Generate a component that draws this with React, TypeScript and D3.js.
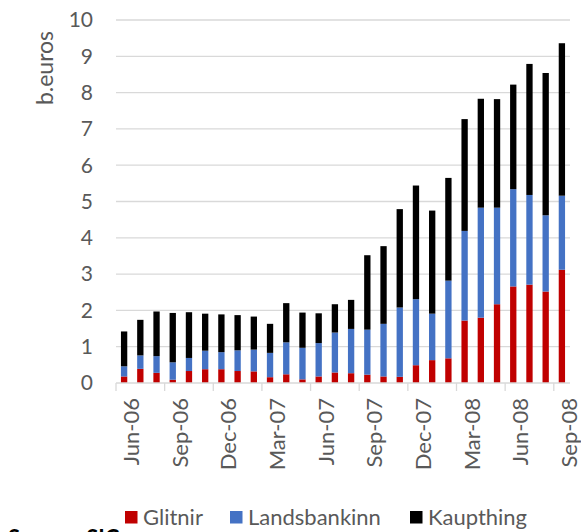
import * as d3 from 'd3';

const months = [
  'Jun-06', 'Jul-06', 'Aug-06', 'Sep-06', 'Oct-06', 'Nov-06', 'Dec-06',
  'Jan-07', 'Feb-07', 'Mar-07', 'Apr-07', 'May-07', 'Jun-07', 'Jul-07',
  'Aug-07', 'Sep-07', 'Oct-07', 'Nov-07', 'Dec-07', 'Jan-08', 'Feb-08',
  'Mar-08', 'Apr-08', 'May-08', 'Jun-08', 'Jul-08', 'Aug-08', 'Sep-08',
];

const glitnir = [
  0.18, 0.39, 0.28, 0.09, 0.33, 0.38, 0.38, 0.33, 0.32, 0.16, 0.24, 0.10, 0.18, 0.29,
  0.27, 0.23, 0.18, 0.17, 0.49, 0.63, 0.68, 1.72, 1.80, 2.17, 2.66, 2.71, 2.52, 3.12,
];
const landsbankinn = [
  0.28, 0.37, 0.46, 0.48, 0.36, 0.51, 0.47, 0.57, 0.60, 0.67, 0.88, 0.87, 0.92, 1.10,
  1.22, 1.24, 1.45, 1.91, 1.82, 1.28, 2.14, 2.47, 3.03, 2.66, 2.68, 2.47, 2.10, 2.04,
];
const kaupthing = [
  0.96, 0.98, 1.23, 1.36, 1.26, 1.02, 1.04, 0.97, 0.91, 0.80, 1.08, 0.97, 0.82, 0.78,
  0.80, 2.05, 2.14, 2.71, 3.13, 2.84, 2.83, 3.08, 3.00, 2.99, 2.88, 3.61, 3.92, 4.20,
];

const seriesNames = ['Glitnir', 'Landsbankinn', 'Kaupthing'];
const seriesColors = ['#C00000', '#4472C4', '#000000'];
const yTicks = [0, 1, 2, 3, 4, 5, 6, 7, 8, 9, 10];

const W = 581;
const H = 532;
const margin = { top: 20, left: 116, right: 11, bottom: 149 };
const FONT = 'Lato, "Open Sans", sans-serif';
const TEXT = '#595959';

export default function App() {
  const x = d3
    .scaleBand<string>()
    .domain(months)
    .range([margin.left, W - margin.right])
    .paddingInner(0.61)
    .paddingOuter(0.305);

  const y = d3.scaleLinear().domain([0, 10]).range([H - margin.bottom, margin.top]);

  const table = months.map((m, i) => ({
    month: m,
    Glitnir: glitnir[i],
    Landsbankinn: landsbankinn[i],
    Kaupthing: kaupthing[i],
  }));
  const stacked = d3.stack<any>().keys(seriesNames)(table);

  const step = x.step();
  const x0 = x.range()[0];
  const tickIdx = months.map((_, i) => i).filter((i) => i % 3 === 0);

  const legendX = [125, 230, 410];

  return (
    <svg
      width={W}
      height={H}
      style={{ position: 'absolute', left: 0, top: 0, background: '#fff' }}
      fontFamily={FONT}
    >
      {yTicks.map((t) => (
        <g key={t}>
          {t > 0 && (
            <line x1={margin.left} x2={W - margin.right} y1={y(t)} y2={y(t)} stroke="#D9D9D9" strokeWidth={1.3} />
          )}
          <text x={93} y={y(t) + 7.3} textAnchor="end" fontSize={21} fill={TEXT}>
            {t}
          </text>
        </g>
      ))}

      {stacked.map((layer, si) => (
        <g key={layer.key} fill={seriesColors[si]}>
          {layer.map((d, i) => (
            <rect
              key={i}
              x={x(months[i])}
              width={x.bandwidth()}
              y={y(d[1])}
              height={y(d[0]) - y(d[1])}
            />
          ))}
        </g>
      ))}

      <line x1={margin.left} x2={W - margin.right} y1={y(0)} y2={y(0)} stroke="#D9D9D9" strokeWidth={1.3} />
      {tickIdx.map((i) => (
        <line key={i} x1={x0 + i * step} x2={x0 + i * step} y1={y(0)} y2={y(0) + 8} stroke="#D9D9D9" strokeWidth={1.3} />
      ))}
      {tickIdx.map((i) => {
        const cx = (x(months[i]) as number) + x.bandwidth() / 2;
        return (
          <text
            key={i}
            transform={`translate(${cx + 15},398) rotate(-90)`}
            textAnchor="end"
            fontSize={22}
            fill={TEXT}
          >
            {months[i]}
          </text>
        );
      })}

      <text transform="translate(53,68) rotate(-90)" textAnchor="middle" fontSize={23} fill={TEXT}>
        b.euros
      </text>

      {seriesNames.map((n, i) => (
        <g key={n}>
          <rect x={legendX[i]} y={511} width={12.5} height={12.5} fill={seriesColors[i]} />
          <text x={legendX[i] + 18} y={525} fontSize={22} fill={TEXT}>
            {n}
          </text>
        </g>
      ))}

      <text x={8} y={546} fontSize={22} fill="#000" fontWeight="bold">
        Source: SIC
      </text>
    </svg>
  );
}
